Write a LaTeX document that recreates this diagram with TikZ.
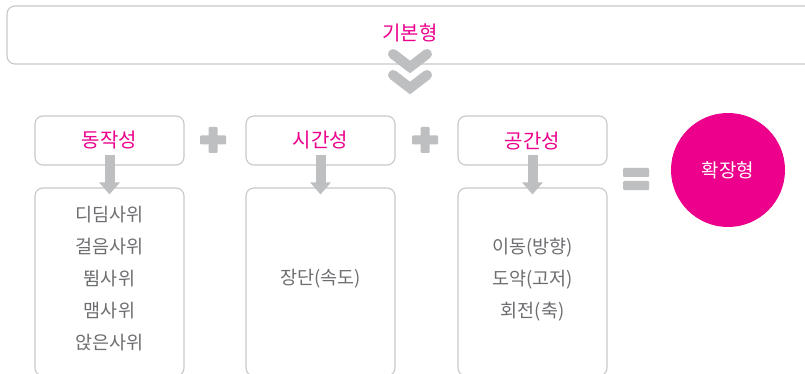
\documentclass[tikz,border=0pt]{standalone}
\usepackage{fontspec}
\setmainfont{Noto Sans CJK KR}
\usetikzlibrary{arrows.meta}
\definecolor{mag}{HTML}{EC008C}
\definecolor{boxgray}{HTML}{C8C8C8}
\definecolor{shapegray}{HTML}{BEBFC1}
\definecolor{txtgray}{HTML}{6D6E71}
\begin{document}
\begin{tikzpicture}[x=1pt,y=-1pt,
 box/.style={draw=boxgray, line width=1.1pt, rounded corners=8pt, fill=white, inner sep=0pt},
 head/.style={box, minimum width=149pt, minimum height=49pt, text=mag, font=\fontsize{20}{22}\selectfont},
 body/.style={box, minimum width=149pt, minimum height=188pt},
 item/.style={text=txtgray, font=\fontsize{18.5}{32}\selectfont, align=center, inner sep=0pt},
 bigarrow/.style={draw=shapegray, line width=10pt, -{Triangle[width=20pt,length=12pt]}},
 chev/.style={draw=shapegray, line width=10pt, line cap=round, line join=miter},
 bar/.style={fill=shapegray, rounded corners=1pt}
]
\clip (0,0) rectangle (805,374);
\fill[white] (0,0) rectangle (805,374);
\node[box, minimum width=806pt, minimum height=58pt] (base) at (410,35) {};
\node[text=mag, font=\fontsize{20}{22}\selectfont, inner sep=0pt] (basetxt) at (410,33) {기본형};
\draw[chev] (393,54) -- (410,67) -- (427,54);
\draw[chev] (393,75) -- (410,88) -- (427,75);

\node[head] (h1) at (109.5,140.5) {동작성};
\node[head] (h2) at (320.5,140.5) {시간성};
\node[head] (h3) at (532.5,140.5) {공간성};
\node[body] (b1) at (109.5,282) {};
\node[body] (b2) at (320.5,282) {};
\node[body] (b3) at (532.5,282) {};
\draw[bigarrow] ([yshift=11pt]h1.south) -- ([yshift=-7pt]b1.north);
\draw[bigarrow] ([yshift=11pt]h2.south) -- ([yshift=-7pt]b2.north);
\draw[bigarrow] ([yshift=11pt]h3.south) -- ([yshift=-7pt]b3.north);

\node[item] (t1) at (109.5,279) {디딤사위\\걸음사위\\뜀사위\\맴사위\\앉은사위};
\node[item] (t2) at (320.5,279) {장단(속도)};
\node[item] (t3) at (532.5,279.5) {이동(방향)\\도약(고저)\\회전(축)};

\fill[bar] (200,135.5) rectangle (226,144.5);
\fill[bar] (208.5,127) rectangle (217.5,153);
\fill[bar] (412,135.5) rectangle (438,144.5);
\fill[bar] (420.5,127) rectangle (429.5,153);
\fill[bar] (623,168) rectangle (649,177);
\fill[bar] (623,181) rectangle (649,190);

\node[circle, fill=mag, minimum size=114pt, inner sep=0pt, text=white, font=\fontsize{19}{21}\selectfont] (ext) at (728,170) {확장형};
\end{tikzpicture}
\end{document}
